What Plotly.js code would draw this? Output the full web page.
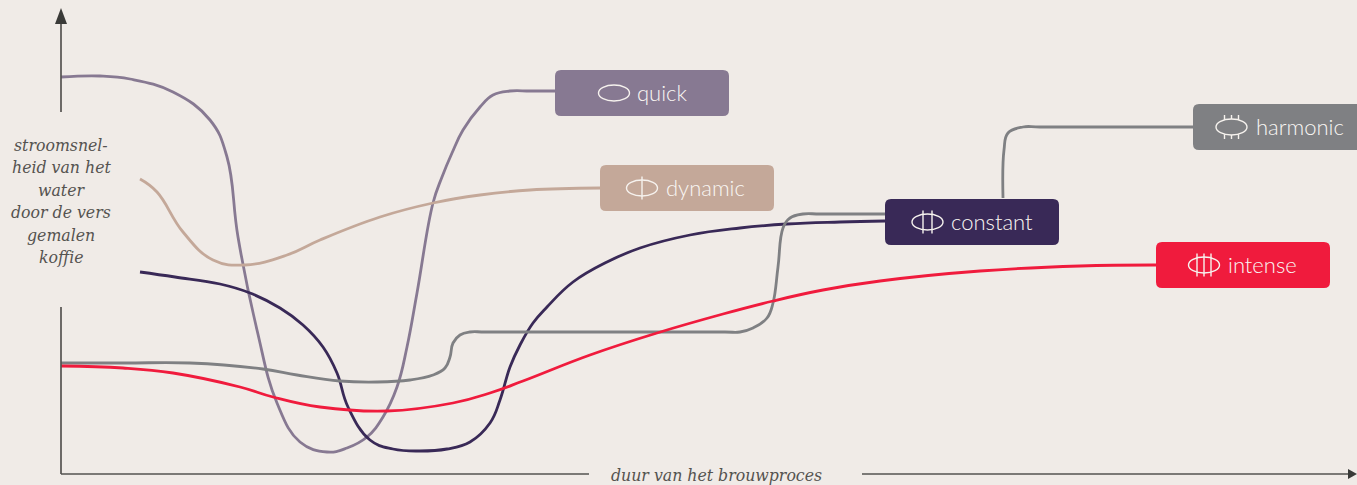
<!DOCTYPE html>
<html><head><meta charset="utf-8">
<script src="https://cdn.plot.ly/plotly-3.0.1.min.js"></script>
<style>html,body{margin:0;padding:0;background:#f0ebe7;overflow:hidden}</style>
</head><body><div id="chart" style="width:1357px;height:485px"></div>
<script>
var bg = '#f0ebe7';
var quickX = [61,100,130,173,210,227,238,257,277,300,327,347,367,383,397,407,417,433,442,452,463,480,493,510,530,556];
var quickY = [408,409,406,393,365,328,248,155,82,43,33,37,48,68,98,138,192,282,308,332,355,378,390,394,394,394];
var dynamicX = [140,157,183,213,245,287,320,380,433,480,530,600];
var dynamicY = [306,293,253,225,220,230,245,268,282,290,295,297];
var constantX = [140,175,220,250,280,303,323,337,348,370,393,420,447,470,490,500,510,520,533,547,573,607,640,690,740,787,840,885];
var constantY = [213,208,201,192,177,160,138,112,78,45,36,34,36,43,62,85,118,140,162,178,203,223,237,250,257,261,263,264];
var harmonicX = [61,125,190,263,297,340,377,410,433,445,450,453,460,470,485,600,725,740,753,767,773,778,783,790,803,820,885,null,1003,1004,1008,1023,1040,1193];
var harmonicY = [122,122,122,116,110,104,103,105,110,117,128,142,150,153,153,153,153,153,157,167,182,218,257,267,271,271,271,null,287,335,352,358,358,358];
var intenseX = [61,123,173,240,273,320,387,453,490,523,590,657,723,773,823,880,980,1080,1156];
var intenseY = [119,117,112,98,88,78,74,82,92,104,130,152,171,184,195,204,214,219,220];

var seriesColors = ['#877992','#c4a899','#392957','#7f8083','#f01b3d'];
var seriesNames = ['quick','dynamic','constant','harmonic','intense'];
var seriesXs = [quickX,dynamicX,constantX,harmonicX,intenseX];
var seriesYs = [quickY,dynamicY,constantY,harmonicY,intenseY];
var boxLeft = [555,600,885,1193,1156];
var boxMid = [392,297,263,358,220];
var iconMid = [614,642,927.5,1231.5,1204];
var iconBars = [[],[0],[-4.5,4.5],[-7,0,7],[-7,0,7]];
var iconTicksOnly = [false,false,false,true,false];
var labelLeft = [635,664,949,1254,1226];
var boxW = 174, boxH = 46, boxR = 6;

var yLabelLines = ['stroomsnel-','heid van het','water','door de vers','gemalen','koffie'];
var yLabelPos = [340,318,295,273,250,228];
var xLabel = 'duur van het brouwproces';

var traces = seriesNames.map(function(n,i){
  return {x:seriesXs[i],y:seriesYs[i],name:n,mode:'lines',hoverinfo:'name',
    line:{color:seriesColors[i],width:2.8,shape:'spline',smoothing:1.2},connectgaps:false};
});

var shapes = [], annotations = [];
var axisCol = '#555350';
function seg(x0,y0,x1,y1){shapes.push({type:'line',xref:'x',yref:'y',x0:x0,y0:y0,x1:x1,y1:y1,line:{color:axisCol,width:1.7}});}
seg(61,11,61,178); seg(61,373,61,462); seg(61,11,589,11); seg(862,11,1350,11);
shapes.push({type:'path',path:'M 55 461 L 61 477 L 67 461 Z',fillcolor:'#3a3a38',line:{width:0}});
shapes.push({type:'path',path:'M 1348 16 L 1357 11 L 1348 6 Z',fillcolor:'#3a3a38',line:{width:0}});

seriesNames.forEach(function(n,i){
  var x0=boxLeft[i],x1=x0+boxW,y0=boxMid[i]-boxH/2,y1=boxMid[i]+boxH/2,r=boxR;
  shapes.push({type:'path',layer:'above',fillcolor:seriesColors[i],line:{width:0},
    path:'M '+(x0+r)+' '+y0+' L '+(x1-r)+' '+y0+' Q '+x1+' '+y0+' '+x1+' '+(y0+r)+' L '+x1+' '+(y1-r)+' Q '+x1+' '+y1+' '+(x1-r)+' '+y1+
    ' L '+(x0+r)+' '+y1+' Q '+x0+' '+y1+' '+x0+' '+(y1-r)+' L '+x0+' '+(y0+r)+' Q '+x0+' '+y0+' '+(x0+r)+' '+y0+' Z'});
  var cx=iconMid[i],cy=boxMid[i];
  var stroke={color:'#f6f2ee',width:1.4};
  shapes.push({type:'circle',layer:'above',x0:cx-15.5,x1:cx+15.5,y0:cy-8,y1:cy+8,line:stroke,fillcolor:'rgba(0,0,0,0)'});
  iconBars[i].forEach(function(b){
    if(iconTicksOnly[i]){
      var e=8*Math.sqrt(1-(b/15.5)*(b/15.5));
      shapes.push({type:'line',layer:'above',x0:cx+b,x1:cx+b,y0:cy+e,y1:cy+12,line:stroke});
      shapes.push({type:'line',layer:'above',x0:cx+b,x1:cx+b,y0:cy-12,y1:cy-e,line:stroke});
    } else {
      shapes.push({type:'line',layer:'above',x0:cx+b,x1:cx+b,y0:cy-11.5,y1:cy+11.5,line:stroke});
    }
  });
  annotations.push({x:labelLeft[i],y:cy+1,xanchor:'left',yanchor:'middle',showarrow:false,text:n,
    font:{family:'Lato, "Open Sans", sans-serif',size:22,weight:300,color:'#f9f6f3'}});
});
yLabelLines.forEach(function(t,i){
  annotations.push({x:61,y:yLabelPos[i],xanchor:'center',yanchor:'middle',showarrow:false,text:'<i>'+t+'</i>',
    font:{family:'"DejaVu Serif Condensed","DejaVu Serif",serif',size:17.5,color:'#555350'}});
});
annotations.push({x:716.5,y:10,xanchor:'center',yanchor:'middle',showarrow:false,text:'<i>'+xLabel+'</i>',
  font:{family:'"DejaVu Serif Condensed","DejaVu Serif",serif',size:17.5,color:'#555350'}});

Plotly.newPlot('chart',traces,{
  width:1357,height:485,margin:{l:0,r:0,t:0,b:0},paper_bgcolor:bg,plot_bgcolor:bg,showlegend:false,
  xaxis:{range:[0,1357],visible:false,fixedrange:true},
  yaxis:{range:[0,485],visible:false,fixedrange:true},
  shapes:shapes,annotations:annotations
},{displayModeBar:false,staticPlot:true});
</script></body></html>
